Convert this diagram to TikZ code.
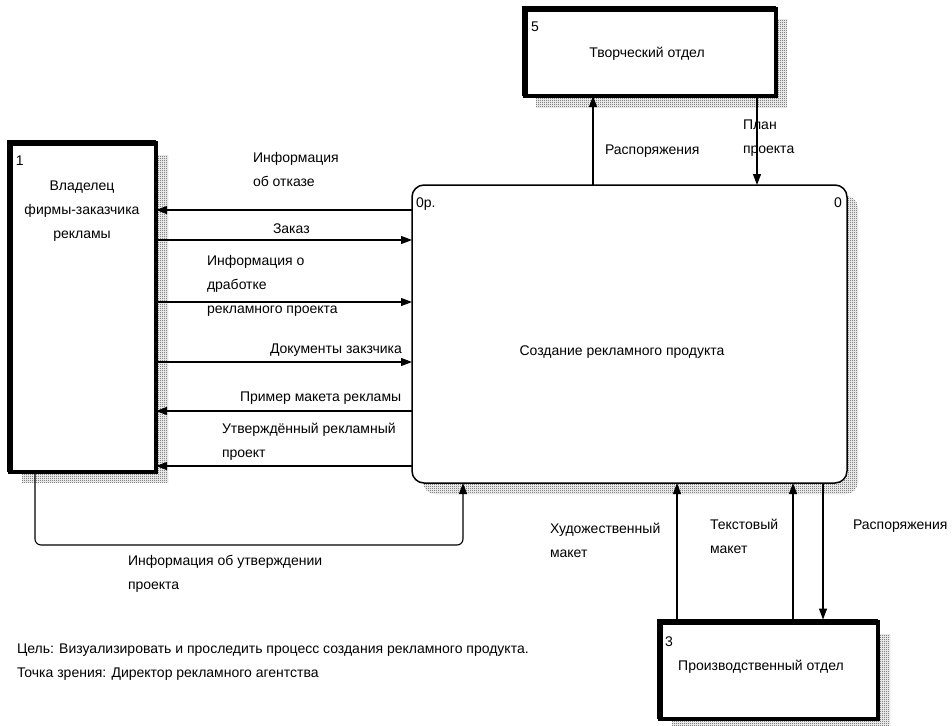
\documentclass[tikz,border=0pt]{standalone}
\usepackage{fontspec}
\setmainfont{Liberation Sans}
\usetikzlibrary{arrows.meta,patterns,backgrounds}
\pgfdeclarepatternformonly{finechecker}{\pgfpointorigin}{\pgfpoint{2pt}{2pt}}{\pgfpoint{2pt}{2pt}}{%
  \pgfpathrectangle{\pgfpointorigin}{\pgfpoint{1pt}{1pt}}%
  \pgfpathrectangle{\pgfpoint{1pt}{1pt}}{\pgfpoint{1pt}{1pt}}%
  \pgfusepath{fill}}
\begin{document}
\begin{tikzpicture}[x=1pt,y=-1pt,
  every node/.style={font=\fontsize{14}{24}\selectfont, inner sep=0pt, outer sep=0pt},
  extbox/.style={draw, line width=3.5pt, fill=white, anchor=north west},
  procbox/.style={draw, line width=1.5pt, rounded corners=12pt, fill=white, anchor=north west},
  shadowfill/.style={pattern=finechecker, pattern color=black!75},
  thickedge/.style={line width=6pt, line join=miter},
  arr/.style={-{Triangle[length=11pt,width=8pt]}, line width=1.1pt},
  lbl/.style={anchor=base west, align=left},
  ttl/.style={anchor=base, align=center}
]
\useasboundingbox (0,0) rectangle (952,725);

% boxes
\node[extbox, minimum width=146pt, minimum height=329pt] (b1) at (10,143) {};
\node[extbox, minimum width=251pt, minimum height=87pt] (b5) at (525,9) {};
\node[extbox, minimum width=218pt, minimum height=97pt] (b3) at (660,622) {};
\node[procbox, minimum width=435pt, minimum height=298pt] (main) at (412,185) {};

\begin{scope}[on background layer]
  \fill[shadowfill] ([shift={(12,12)}]b1.north west) rectangle ([shift={(12,10)}]b1.south east);
  \fill[shadowfill] ([shift={(11,11)}]b5.north west) rectangle ([shift={(11,11)}]b5.south east);
  \fill[shadowfill] ([shift={(12,12)}]b3.north west) rectangle ([shift={(12,12)}]b3.south east);
  \fill[shadowfill, rounded corners=12pt] ([shift={(11,11)}]main.north west) rectangle ([shift={(11,11)}]main.south east);
\end{scope}

\draw[thickedge] (b1.south west) -- (b1.north west) -- (b1.north east);
\draw[thickedge] (b5.south west) -- (b5.north west) -- (b5.north east);
\draw[thickedge] (b3.south west) -- (b3.north west) -- (b3.north east);

% box texts
\node[lbl] (n1) at (16,165) {1};
\node[ttl] (t1) at (82,238) {Владелец\\фирмы-заказчика\\рекламы};
\node[lbl] (n5) at (531,32) {5};
\node[ttl] (t5) at (647,58) {Творческий отдел};
\node[lbl] (n3) at (665,646) {3};
\node[ttl] (t3) at (761,670) {Производственный отдел};
\node[lbl] (n0a) at (416,207) {0р.};
\node[lbl] (n0b) at (834,207) {0};
\node[ttl] (tm) at (622,355) {Создание рекламного продукта};

% connectors left
\draw[arr] (main.west |- 0,210) -- (b1.east |- 0,210);
\draw[arr] (b1.east |- 0,240) -- (main.west |- 0,240);
\draw[arr] (b1.east |- 0,302) -- (main.west |- 0,302);
\draw[arr] (b1.east |- 0,362) -- (main.west |- 0,362);
\draw[arr] (main.west |- 0,411) -- (b1.east |- 0,411);
\draw[arr] (main.west |- 0,466) -- (b1.east |- 0,466);

% top
\draw[arr] (main.north -| 593,0) -- (b5.south -| 593,0);
\draw[arr] (b5.south -| 757,0) -- (main.north -| 757,0);

% bottom
\draw[arr] (b3.north -| 677,0) -- (main.south -| 677,0);
\draw[arr] (b3.north -| 793,0) -- (main.south -| 793,0);
\draw[arr, shorten >=2.5pt] (main.south -| 823,0) -- (b3.north -| 823,0);

\coordinate (c1) at (35,545);
\coordinate (c2) at (463,545);
\draw[arr, rounded corners=6pt] (b1.south -| c1) -- (c1) -- (c2) -- (main.south -| c2);

% labels (anchor = baseline of last line)
\node[lbl] (l1) at (253,186) {Информация\\об отказе};
\node[lbl] (l2) at (273,233) {Заказ};
\node[lbl] (l3) at (207,313) {Информация о\\дработке\\рекламного проекта};
\node[lbl] (l4) at (270,353) {Документы закзчика};
\node[lbl] (l5) at (240,401) {Пример макета рекламы};
\node[lbl] (l6) at (222,457) {Утверждённый рекламный\\проект};
\node[lbl] (l7) at (605,154) {Распоряжения};
\node[lbl] (l8) at (743,153) {План\\проекта};
\node[lbl] (l9) at (550,557) {Художественный\\макет};
\node[lbl] (l10) at (710,553) {Текстовый\\макет};
\node[lbl] (l11) at (853,529) {Распоряжения};
\node[lbl] (l12) at (128,589) {Информация об утверждении\\проекта};
\node[lbl] (goal) at (17,677) {Цель: Визуализировать и проследить процесс создания рекламного продукта.\\Точка зрения: Директор рекламного агентства};
\end{tikzpicture}
\end{document}
